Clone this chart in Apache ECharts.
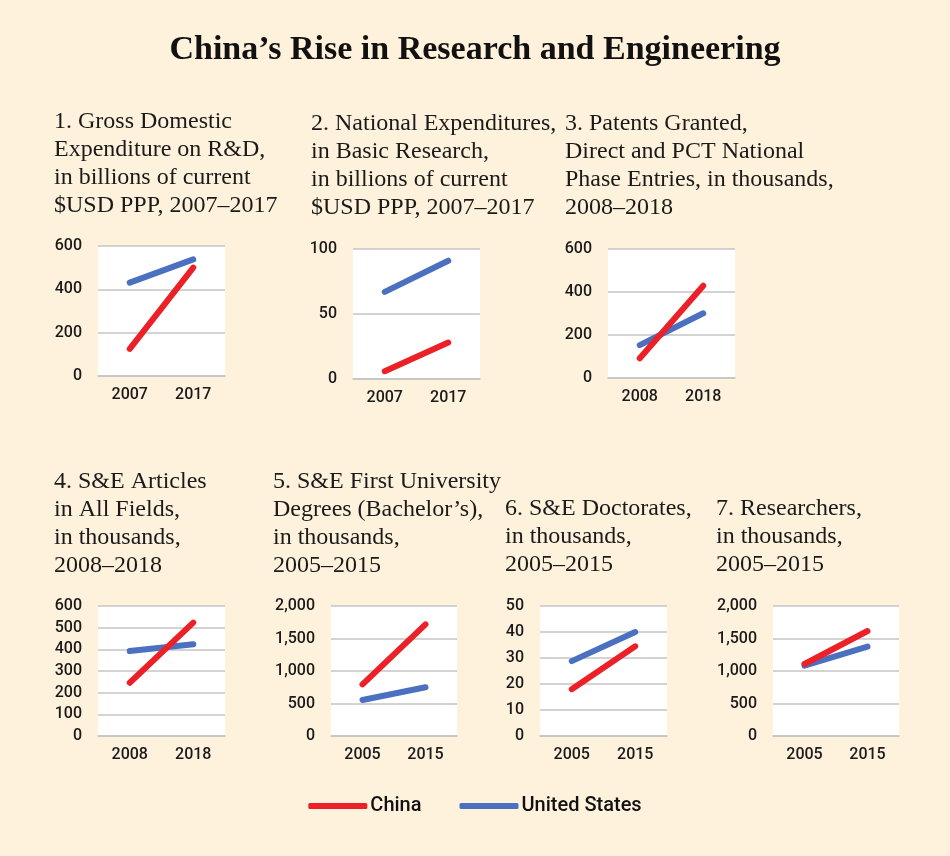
<!DOCTYPE html>
<html lang="en">
<head>
<meta charset="UTF-8"/>
<title>China's Rise in Research and Engineering</title>
<script src="https://cdn.jsdelivr.net/npm/echarts@6/dist/echarts.min.js"></script>
<style>
  html, body { margin: 0; padding: 0; background: #fef2dd; }
  #main { width: 950px; height: 856px; }
</style>
</head>
<body>
<div id="main"></div>
<script type="text/javascript">
// data
var yearsA = ['2007', '2017'];
var yearsB = ['2008', '2018'];
var yearsC = ['2005', '2015'];

var rdChina = [125, 500];
var rdUS = [431, 538];
var basicChina = [6, 28];
var basicUS = [67, 91];
var patentsChina = [92, 429];
var patentsUS = [153, 301];
var articlesChina = [246, 523];
var articlesUS = [392, 423];
var degreesChina = [795, 1718];
var degreesUS = [554, 749];
var doctoratesChina = [18, 34.5];
var doctoratesUS = [28.8, 40];
var researchersChina = [1108, 1615];
var researchersUS = [1082, 1374];

var yMax = [600, 100, 600, 600, 2000, 50, 2000];
var yStep = [200, 50, 200, 100, 500, 10, 500];

var panelTitles = [
    '1. Gross Domestic\nExpenditure on R&D,\nin billions of current\n$USD PPP, 2007–2017',
    '2. National Expenditures,\nin Basic Research,\nin billions of current\n$USD PPP, 2007–2017',
    '3. Patents Granted,\nDirect and PCT National\nPhase Entries, in thousands,\n2008–2018',
    '4. S&E Articles\nin All Fields,\nin thousands,\n2008–2018',
    '5. S&E First University\nDegrees (Bachelor’s),\nin thousands,\n2005–2015',
    '6. S&E Doctorates,\nin thousands,\n2005–2015',
    '7. Researchers,\nin thousands,\n2005–2015'
];

var panels = [
    {cats: yearsA, china: rdChina, us: rdUS},
    {cats: yearsA, china: basicChina, us: basicUS},
    {cats: yearsB, china: patentsChina, us: patentsUS},
    {cats: yearsB, china: articlesChina, us: articlesUS},
    {cats: yearsC, china: degreesChina, us: degreesUS},
    {cats: yearsC, china: doctoratesChina, us: doctoratesUS},
    {cats: yearsC, china: researchersChina, us: researchersUS}
];

// layout of each small chart
var boxes = [
    {left: 98,  top: 246, width: 127, height: 130, tx: 54,  ty: 108},
    {left: 353, top: 249, width: 127, height: 130, tx: 311, ty: 110},
    {left: 608, top: 249, width: 127, height: 129, tx: 565, ty: 110},
    {left: 98,  top: 606, width: 127, height: 130, tx: 54,  ty: 468},
    {left: 331, top: 606, width: 126, height: 130, tx: 273, ty: 468},
    {left: 540, top: 606, width: 127, height: 130, tx: 505, ty: 495},
    {left: 773, top: 606, width: 126, height: 130, tx: 716, ty: 495}
];

var RED = '#ec2027';
var BLUE = '#4a70bf';
var serif = '"Liberation Serif", "DejaVu Serif", serif';
var sans = 'Roboto, "Liberation Sans", Arial, sans-serif';

var myChart = echarts.init(document.getElementById('main'));

var titles = [{
    text: 'China’s Rise in Research and Engineering',
    left: 'center',
    top: 28,
    textStyle: {fontFamily: serif, fontSize: 34, fontWeight: 'bold', color: '#111'}
}];
var grids = [], xAxes = [], yAxes = [], series = [];

panels.forEach(function (p, i) {
    var b = boxes[i];
    titles.push({
        text: panelTitles[i],
        left: b.tx,
        top: b.ty,
        padding: 0,
        textStyle: {fontFamily: serif, fontSize: 24, fontWeight: 'normal', color: '#1a1a1a', lineHeight: 28}
    });
    grids.push({
        left: b.left, top: b.top, width: b.width, height: b.height,
        show: true, backgroundColor: '#ffffff', borderWidth: 0
    });
    xAxes.push({
        type: 'category',
        gridIndex: i,
        data: p.cats,
        boundaryGap: true,
        axisLine: {show: true, lineStyle: {color: '#c4c4c4', width: 1.5}},
        axisTick: {show: false},
        axisLabel: {fontFamily: sans, fontSize: 16, fontWeight: 500, color: '#1a1a1a', margin: 11}
    });
    yAxes.push({
        type: 'value',
        gridIndex: i,
        min: 0,
        max: yMax[i],
        interval: yStep[i],
        axisLine: {show: false},
        axisTick: {show: false},
        splitLine: {lineStyle: {color: '#c4c4c4', width: 1.5}},
        axisLabel: {
            fontFamily: sans, fontSize: 16, fontWeight: 500, color: '#1a1a1a', margin: 16,
            formatter: function (v) { return v.toLocaleString('en-US'); }
        }
    });
    series.push({
        name: 'United States', type: 'line', xAxisIndex: i, yAxisIndex: i,
        data: p.us, symbol: 'none', color: BLUE,
        lineStyle: {width: 6, color: BLUE, cap: 'round'}
    });
    series.push({
        name: 'China', type: 'line', xAxisIndex: i, yAxisIndex: i,
        data: p.china, symbol: 'none', color: RED,
        lineStyle: {width: 6, color: RED, cap: 'round'}
    });
});

var option = {
    backgroundColor: '#fef2dd',
    animation: false,
    title: titles,
    legend: {
        data: ['China', 'United States'],
        left: 'center',
        top: 791,
        icon: 'roundRect',
        itemWidth: 59,
        itemHeight: 6,
        itemGap: 38,
        textStyle: {fontFamily: sans, fontSize: 20, fontWeight: 500, color: '#111', padding: [0, 0, 0, -2]}
    },
    grid: grids,
    xAxis: xAxes,
    yAxis: yAxes,
    series: series
};

myChart.setOption(option);
</script>
</body>
</html>
